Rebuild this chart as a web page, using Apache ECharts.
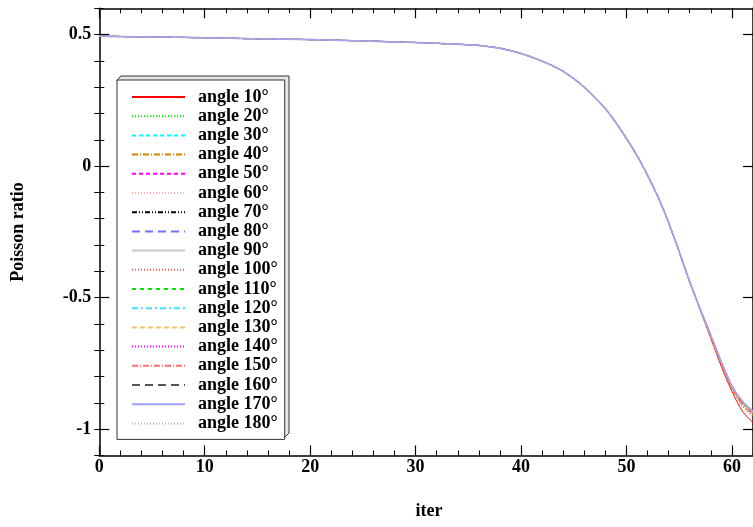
<!DOCTYPE html>
<html>
<head>
<meta charset="utf-8">
<script src="https://cdn.jsdelivr.net/npm/echarts@6/dist/echarts.min.js"></script>
<style>
html,body{margin:0;padding:0;background:#fff;}
#chart{width:753px;height:527px;}
</style>
</head>
<body>
<div id="chart"></div>
<script>
// ---- data ----
const iters = [0,5,10,15,20,25,30,33,36,38,40,42,44,46,48,49,50,51,52,53,54,55,56,57,58,59,60,61,62];
// shared part (iter 0..56), all curves coincide visually
const headValues = [0.494,0.491,0.488,0.484,0.481,0.476,0.470,0.465,0.459,0.448,0.428,0.399,0.360,0.300,0.218,0.165,0.105,0.040,-0.035,-0.118,-0.215,-0.325,-0.440];
// per-angle tails (iter 57..62)
const tail10  = [-0.548,-0.655,-0.762,-0.856,-0.932,-0.975];
const tail20  = [-0.546,-0.649,-0.753,-0.846,-0.912,-0.952];
const tail30  = [-0.545,-0.646,-0.749,-0.840,-0.902,-0.940];
const tail40  = [-0.546,-0.648,-0.751,-0.844,-0.908,-0.946];
const tail50  = [-0.545,-0.645,-0.748,-0.839,-0.900,-0.937];
const tail60  = [-0.544,-0.644,-0.746,-0.837,-0.897,-0.934];
const tail70  = [-0.545,-0.646,-0.749,-0.840,-0.902,-0.940];
const tail80  = [-0.544,-0.643,-0.745,-0.835,-0.895,-0.932];
const tail90  = [-0.544,-0.644,-0.746,-0.837,-0.898,-0.935];
const tail100 = [-0.546,-0.649,-0.752,-0.845,-0.910,-0.948];
const tail110 = [-0.545,-0.646,-0.749,-0.840,-0.901,-0.939];
const tail120 = [-0.544,-0.644,-0.747,-0.838,-0.899,-0.936];
const tail130 = [-0.545,-0.645,-0.748,-0.839,-0.900,-0.938];
const tail140 = [-0.544,-0.644,-0.746,-0.837,-0.897,-0.934];
const tail150 = [-0.545,-0.647,-0.750,-0.842,-0.904,-0.942];
const tail160 = [-0.544,-0.643,-0.745,-0.836,-0.896,-0.933];
const tail170 = [-0.544,-0.643,-0.744,-0.835,-0.894,-0.931];
const tail180 = [-0.544,-0.644,-0.746,-0.837,-0.896,-0.933];
const angles = [10,20,30,40,50,60,70,80,90,100,110,120,130,140,150,160,170,180];
const tails = [tail10,tail20,tail30,tail40,tail50,tail60,tail70,tail80,tail90,tail100,tail110,tail120,tail130,tail140,tail150,tail160,tail170,tail180];
const yTickLabels = [-1,-0.5,0,0.5];

// ---- styles ----
const styles = [
  {color:'#ff0000', type:'solid', width:1},
  {color:'#00ee00', type:[1,2], width:1.2},
  {color:'#00ffff', type:[4,3], width:1},
  {color:'#d08000', type:[6,2,1,2], width:1},
  {color:'#ff00ff', type:[4,3], width:1},
  {color:'#ffb0b0', type:[1,2], width:1.2},
  {color:'#000000', type:[5,2,1,2,1,2], width:1},
  {color:'#7070ff', type:[8,5], width:1},
  {color:'#c8c8c8', type:'solid', width:1.5},
  {color:'#e06060', type:[1,2], width:1.2},
  {color:'#00e000', type:[4,4], width:1},
  {color:'#40e0ff', type:[6,3,2,3], width:1},
  {color:'#f0c070', type:[5,3], width:1.5},
  {color:'#ff00ff', type:[1,2], width:1.2},
  {color:'#ff7070', type:[6,2,1,2], width:1},
  {color:'#555555', type:[8,5], width:1},
  {color:'#a0a0ff', type:'solid', width:1.5},
  {color:'#b8b8b8', type:[1,2], width:1}
];

const FONT = 'Liberation Serif';
const chart = echarts.init(document.getElementById('chart'), null, {renderer:'canvas'});

const series = angles.map((a, k) => {
  const vals = headValues.concat(tails[k]);
  return {
    name: 'angle ' + a + '°',
    type: 'line',
    symbol: 'none',
    smooth: 0.3,
    xAxisIndex: 0,
    yAxisIndex: 0,
    data: iters.map((x, i) => [x, vals[i]]),
    lineStyle: {color: styles[k].color, type: styles[k].type, width: styles[k].width},
    itemStyle: {color: styles[k].color},
    animation: false,
    z: 2
  };
});

const axisLine = {show:true, onZero:false, lineStyle:{color:'#000', width:1.5}};
const lbl = {fontFamily:FONT, fontWeight:'bold', fontSize:18, color:'#000'};

const option = {
  animation: false,
  backgroundColor: '#fff',
  grid: {left: 99.3, top: 8.3, width: 660.3, height: 447.2, containLabel: false},
  xAxis: [
    {type:'value', position:'bottom', min:0, max:62, interval:10,
     axisLine: axisLine,
     axisTick: {show:true, inside:true, length:10, lineStyle:{color:'#000', width:1.2}},
     minorTick: {show:true, splitNumber:5, length:5, lineStyle:{color:'#000', width:1}},
     axisLabel: Object.assign({margin:3, showMaxLabel:false}, lbl),
     splitLine:{show:false}, minorSplitLine:{show:false}},
    {type:'value', position:'top', min:0, max:62, interval:10,
     axisLine: axisLine,
     axisTick: {show:true, inside:true, length:10, lineStyle:{color:'#000', width:1.2}},
     minorTick: {show:true, splitNumber:5, length:5, lineStyle:{color:'#000', width:1}},
     axisLabel: {show:false},
     splitLine:{show:false}}
  ],
  yAxis: [
    {type:'value', position:'left', min:-1.1, max:0.6,
     axisLine: axisLine,
     axisTick: {show:true, inside:true, length:10, customValues: yTickLabels, lineStyle:{color:'#000', width:1.2}},
     axisLabel: Object.assign({margin:8, customValues: yTickLabels}, lbl),
     splitLine:{show:false}},
    {type:'value', position:'left', min:-1.1, max:0.6, interval:0.1,
     axisLine: {show:false},
     axisTick: {show:true, inside:true, length:5, lineStyle:{color:'#000', width:1}},
     axisLabel: {show:false},
     splitLine:{show:false}},
    {type:'value', position:'right', min:-1.1, max:0.6,
     axisLine: axisLine,
     axisTick: {show:true, inside:true, length:10, customValues: yTickLabels, lineStyle:{color:'#000', width:1.2}},
     axisLabel: {show:false},
     splitLine:{show:false}},
    {type:'value', position:'right', min:-1.1, max:0.6, interval:0.1,
     axisLine: {show:false},
     axisTick: {show:true, inside:true, length:5, lineStyle:{color:'#000', width:1}},
     axisLabel: {show:false},
     splitLine:{show:false}}
  ],
  legend: {
    orient: 'vertical',
    left: 117, top: 80,
    padding: [8, 7, 7, 14],
    itemWidth: 53, itemHeight: 14, itemGap: 1.2,
    backgroundColor: '#ffffff',
    borderColor: '#333333', borderWidth: 1,
    selectedMode: false,
    itemStyle: {opacity: 0},
    textStyle: {fontFamily:FONT, fontWeight:'bold', fontSize:18, color:'#000', padding:[0,0,0,8]},
    z: 6
  },
  graphic: [
    {type:'polygon', z: 5, silent:true,
     shape:{points:[[117,80],[121,76],[289,76],[289,433],[285,437]]},
     style:{fill:'#e6e6e6', stroke:'#333', lineWidth:1}},
    {type:'text', silent:true,
     style:{text:'iter', x:429, y:511, fill:'#000', font:'bold 18px "Liberation Serif"', textAlign:'center', textVerticalAlign:'middle'}},
    {type:'text', silent:true, rotation: Math.PI/2, x:18, y:232,
     style:{text:'Poisson ratio', x:0, y:0, fill:'#000', font:'bold 18px "Liberation Serif"', textAlign:'center', textVerticalAlign:'middle'}}
  ],
  series: series
};
chart.setOption(option);
</script>
</body>
</html>
